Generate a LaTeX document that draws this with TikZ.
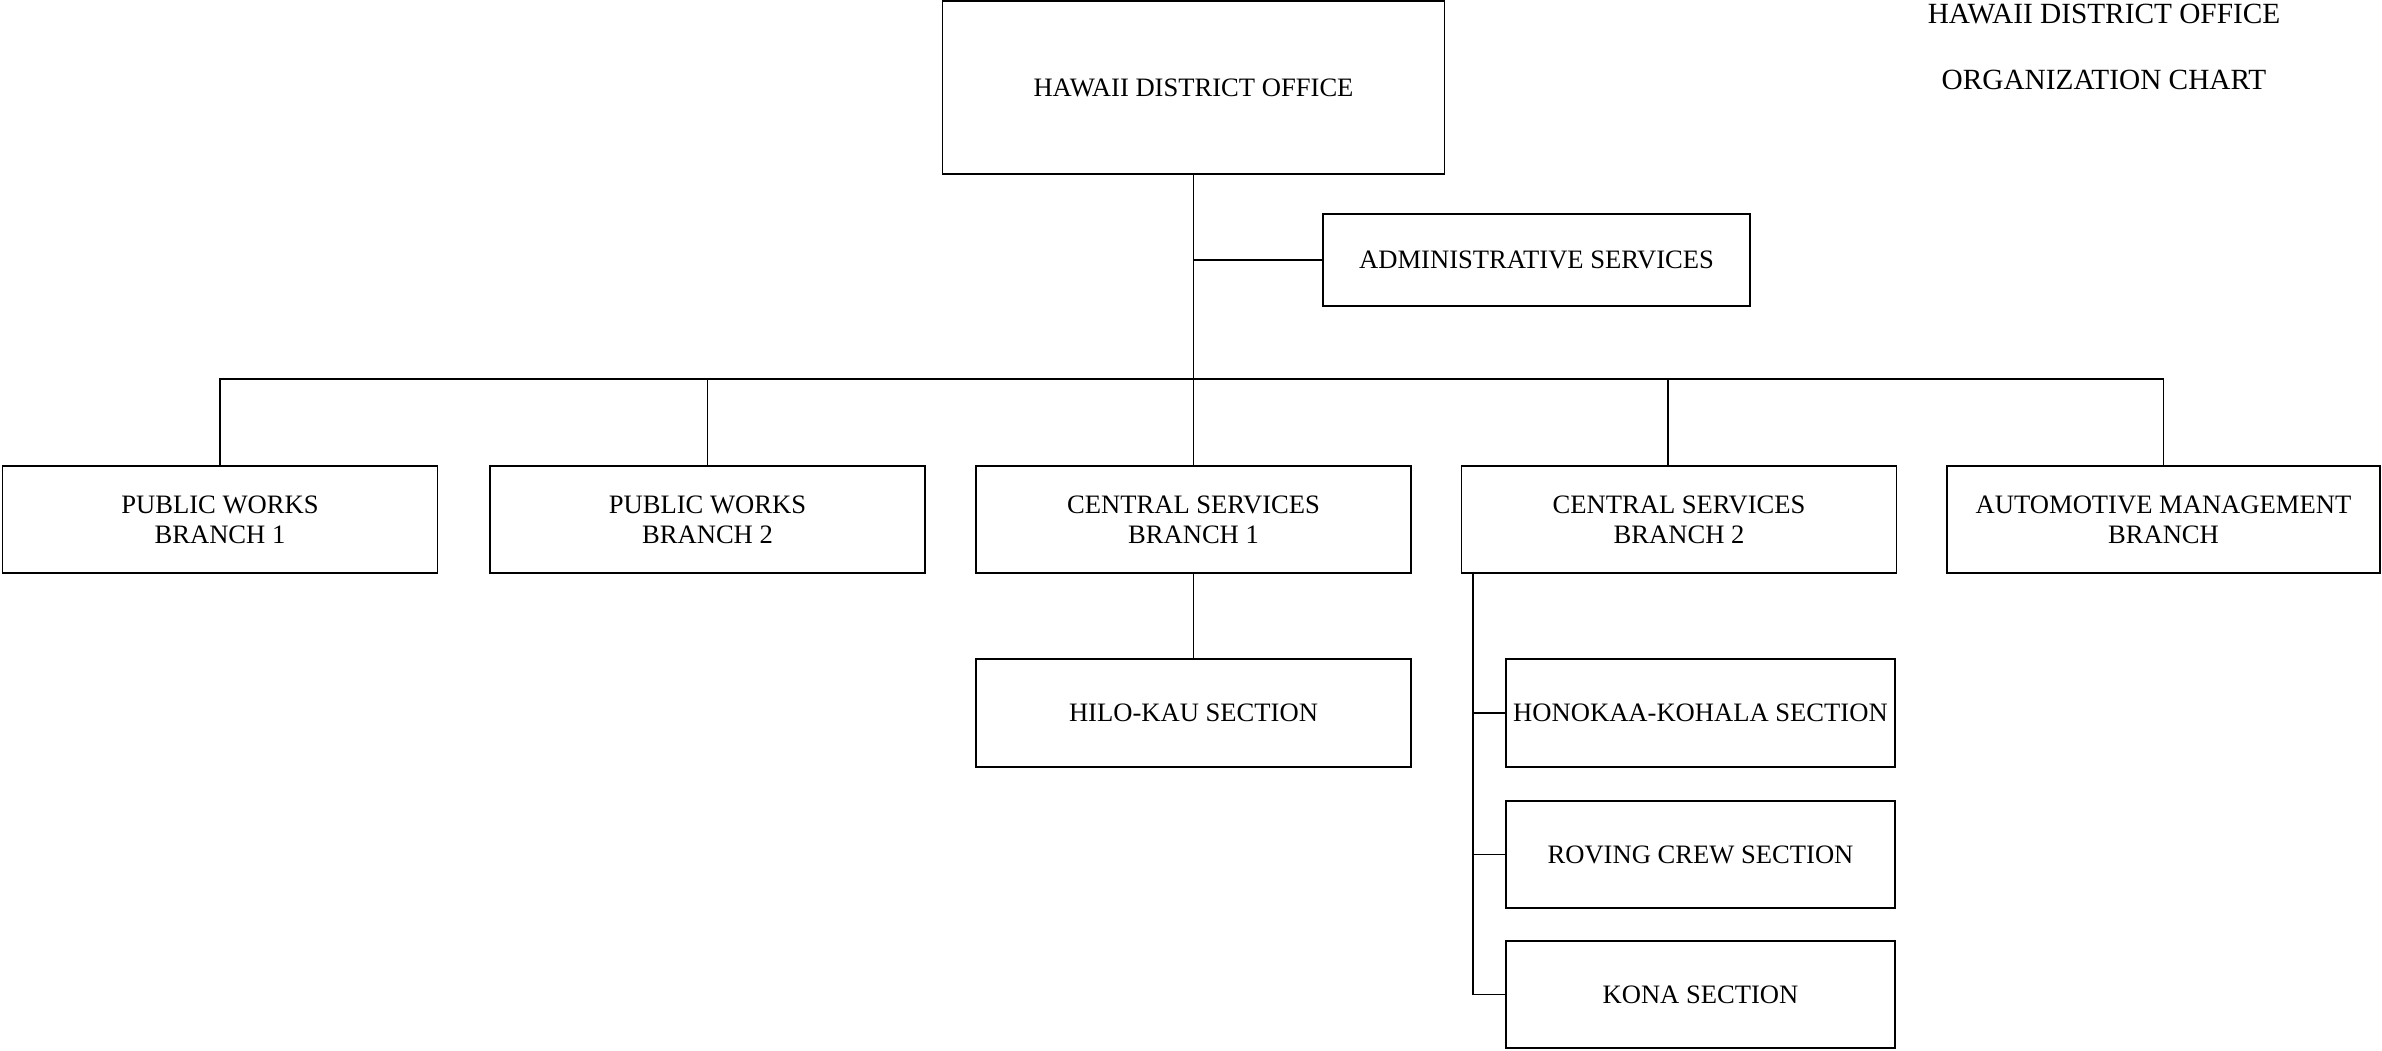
\documentclass[tikz,border=0pt]{standalone}
\usepackage{fontspec}
\setmainfont{Liberation Serif}
\begin{document}
\begin{tikzpicture}[x=1pt,y=-1pt,
  orgbox/.style={draw=black,line width=1.4pt,rectangle,inner sep=0pt,
    minimum width=435pt,minimum height=107pt,align=center,
    font=\fontsize{26.6}{30}\selectfont},
  conn/.style={draw=black,line width=1.3pt},
  titletext/.style={font=\fontsize{29.3}{34}\selectfont,anchor=base,inner sep=0pt}]
\useasboundingbox (0,0) rectangle (2382,1050);
\node[orgbox,minimum width=502pt,minimum height=173pt] (top) at (1193.5,87.5) {HAWAII DISTRICT OFFICE};
\node[orgbox,minimum width=427pt,minimum height=92pt] (admin) at (1536.5,260) {ADMINISTRATIVE SERVICES};
\node[orgbox] (pw1) at (220,519.5) {PUBLIC WORKS\\BRANCH 1};
\node[orgbox] (pw2) at (707.5,519.5) {PUBLIC WORKS\\BRANCH 2};
\node[orgbox] (cs1) at (1193.5,519.5) {CENTRAL SERVICES\\BRANCH 1};
\node[orgbox] (cs2) at (1679,519.5) {CENTRAL SERVICES\\BRANCH 2};
\node[orgbox,minimum width=433pt] (am) at (2163.5,519.5) {AUTOMOTIVE MANAGEMENT\\BRANCH};
\node[orgbox,minimum height=108pt] (hilo) at (1193.5,713) {HILO-KAU SECTION};
\node[orgbox,minimum width=389pt,minimum height=108pt] (hono) at (1700.5,713) {HONOKAA-KOHALA SECTION};
\node[orgbox,minimum width=389pt] (rov) at (1700.5,854.5) {ROVING CREW SECTION};
\node[orgbox,minimum width=389pt] (kona) at (1700.5,994.5) {KONA SECTION};
\node[titletext] (title1) at (2104,23) {HAWAII DISTRICT OFFICE};
\node[titletext] (title2) at (2104,89) {ORGANIZATION CHART};
% connectors
\coordinate (busy) at (0,379);
\draw[conn] (top.south) -- (cs1.north);
\coordinate (adminj) at (top.south |- admin.west);
\draw[conn] (adminj) -- (admin.west);
\draw[conn] (pw1.north) -- (pw1.north |- busy) -- (am.north |- busy) -- (am.north);
\draw[conn] (pw2.north) -- (pw2.north |- busy);
\coordinate (cs2drop) at (1668,379);
\draw[conn] (cs2drop) -- (cs2drop |- cs2.north);
\draw[conn] (cs1.south) -- (hilo.north);
\coordinate (cs2v) at (1473,573);
\draw[conn] (cs2v) -- (cs2v |- kona.west) -- (kona.west);
\draw[conn] (cs2v |- hono.west) -- (hono.west);
\draw[conn] (cs2v |- rov.west) -- (rov.west);
\end{tikzpicture}
\end{document}
